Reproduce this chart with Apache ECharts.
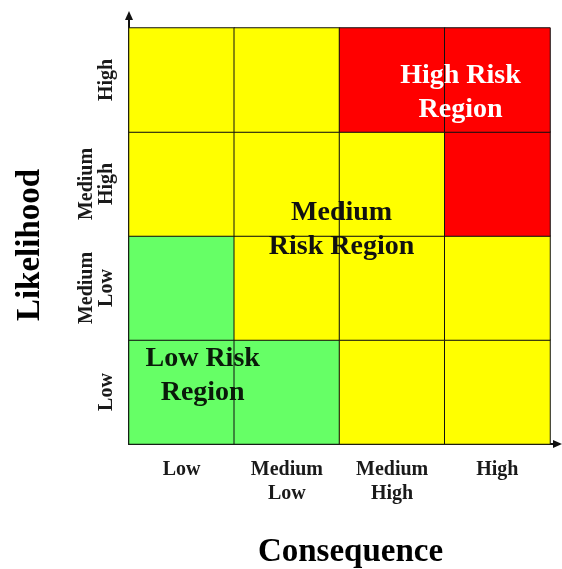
<!DOCTYPE html>
<html>
<head>
<meta charset="utf-8">
<script src="https://cdn.jsdelivr.net/npm/echarts@6/dist/echarts.min.js"></script>
<style>html,body{margin:0;padding:0;background:#fff;}#c{width:562px;height:569px;}</style>
</head>
<body>
<div id="c"></div>
<script>
// Categories
var consequence = ['Low', 'Medium\nLow', 'Medium\nHigh', 'High'];
var likelihood = ['Low', 'Medium\nLow', 'Medium\nHigh', 'High'];
// Risk level per cell: rows = likelihood (Low -> High), columns = consequence (Low -> High)
// 0 = low (green), 1 = medium (yellow), 2 = high (red)
var riskLow     = [0, 0, 1, 1];
var riskMedLow  = [0, 1, 1, 1];
var riskMedHigh = [1, 1, 1, 2];
var riskHigh    = [1, 1, 2, 2];
var regionNames = ['Low Risk\nRegion', 'Medium\nRisk Region', 'High Risk\nRegion'];

var rows = [riskLow, riskMedLow, riskMedHigh, riskHigh];
var cells = [];
rows.forEach(function (r, yi) { r.forEach(function (v, xi) { cells.push([xi, yi, v]); }); });

var FONT = '"Liberation Serif", "Times New Roman", serif';
var regionAnchors = [[0.70, 0.66], [2.02, 2.06], [3.15, 3.38]];
var regionColors = ['#0a1a0a', '#111', '#fff'];

var chart = echarts.init(document.getElementById('c'));
var option = {
  backgroundColor: '#fff',
  animation: false,
  grid: { left: 129, right: 12, top: 28, bottom: 125, containLabel: false, outerBoundsMode: 'none' },
  xAxis: [{
    type: 'category', data: consequence, position: 'bottom',
    axisLine: { show: true, lineStyle: { color: '#111', width: 2 } },
    axisTick: { show: false }, splitLine: { show: false },
    axisLabel: { margin: 14, color: '#1a1a1a', fontFamily: FONT, fontWeight: 'bold', fontSize: 20, lineHeight: 24 },
    name: 'Consequence', nameLocation: 'middle', nameGap: 92,
    nameTextStyle: { color: '#000', fontFamily: FONT, fontWeight: 'bold', fontSize: 33, padding: [0, 0, 0, 22] }
  }, {
    type: 'value', min: 0, max: 4, show: false
  }],
  yAxis: [{
    type: 'category', data: likelihood,
    axisLine: { show: true, lineStyle: { color: '#111', width: 2 } },
    axisTick: { show: false }, splitLine: { show: false },
    axisLabel: { rotate: 90, margin: 12, color: '#1a1a1a', fontFamily: FONT, fontWeight: 'bold', fontSize: 20, lineHeight: 20 },
    name: 'Likelihood', nameLocation: 'middle', nameGap: 82, nameRotate: 90,
    nameTextStyle: { color: '#000', fontFamily: FONT, fontWeight: 'bold', fontSize: 33, padding: [0, 18, 0, 0] }
  }, {
    type: 'value', min: 0, max: 4, show: false
  }],
  visualMap: {
    show: false, type: 'piecewise', dimension: 2, seriesIndex: 0,
    pieces: [
      { value: 0, color: '#66FF66' },
      { value: 1, color: '#FFFF00' },
      { value: 2, color: '#FF0000' }
    ]
  },
  series: [{
    type: 'heatmap', data: cells, z: 1,
    itemStyle: { borderColor: '#111', borderWidth: 1 },
    label: { show: false }, emphasis: { disabled: true }
  }, {
    type: 'scatter', xAxisIndex: 1, yAxisIndex: 1, symbolSize: 1, silent: true, z: 10,
    itemStyle: { opacity: 0 },
    data: regionNames.map(function (n, i) {
      return {
        value: regionAnchors[i], name: n,
        label: { show: true, position: 'inside', formatter: n, color: regionColors[i], opacity: 1,
          fontFamily: FONT, fontWeight: 'bold', fontSize: 28, lineHeight: 34, align: 'center' }
      };
    })
  }]
};
chart.setOption(option);

// axis arrows extending slightly beyond the plotting area
var o = chart.convertToPixel({ xAxisIndex: 1, yAxisIndex: 1 }, [0, 0]);
var e = chart.convertToPixel({ xAxisIndex: 1, yAxisIndex: 1 }, [4, 4]);
chart.setOption({
  graphic: [
    { type: 'line', shape: { x1: e[0], y1: o[1], x2: e[0] + 6, y2: o[1] }, style: { stroke: '#111', lineWidth: 2 } },
    { type: 'polygon', shape: { points: [[e[0] + 12, o[1]], [e[0] + 3, o[1] - 4], [e[0] + 3, o[1] + 4]] }, style: { fill: '#111' } },
    { type: 'line', shape: { x1: o[0], y1: e[1], x2: o[0], y2: e[1] - 10 }, style: { stroke: '#111', lineWidth: 2 } },
    { type: 'polygon', shape: { points: [[o[0], e[1] - 17], [o[0] - 4, e[1] - 8], [o[0] + 4, e[1] - 8]] }, style: { fill: '#111' } }
  ]
});
</script>
</body>
</html>
